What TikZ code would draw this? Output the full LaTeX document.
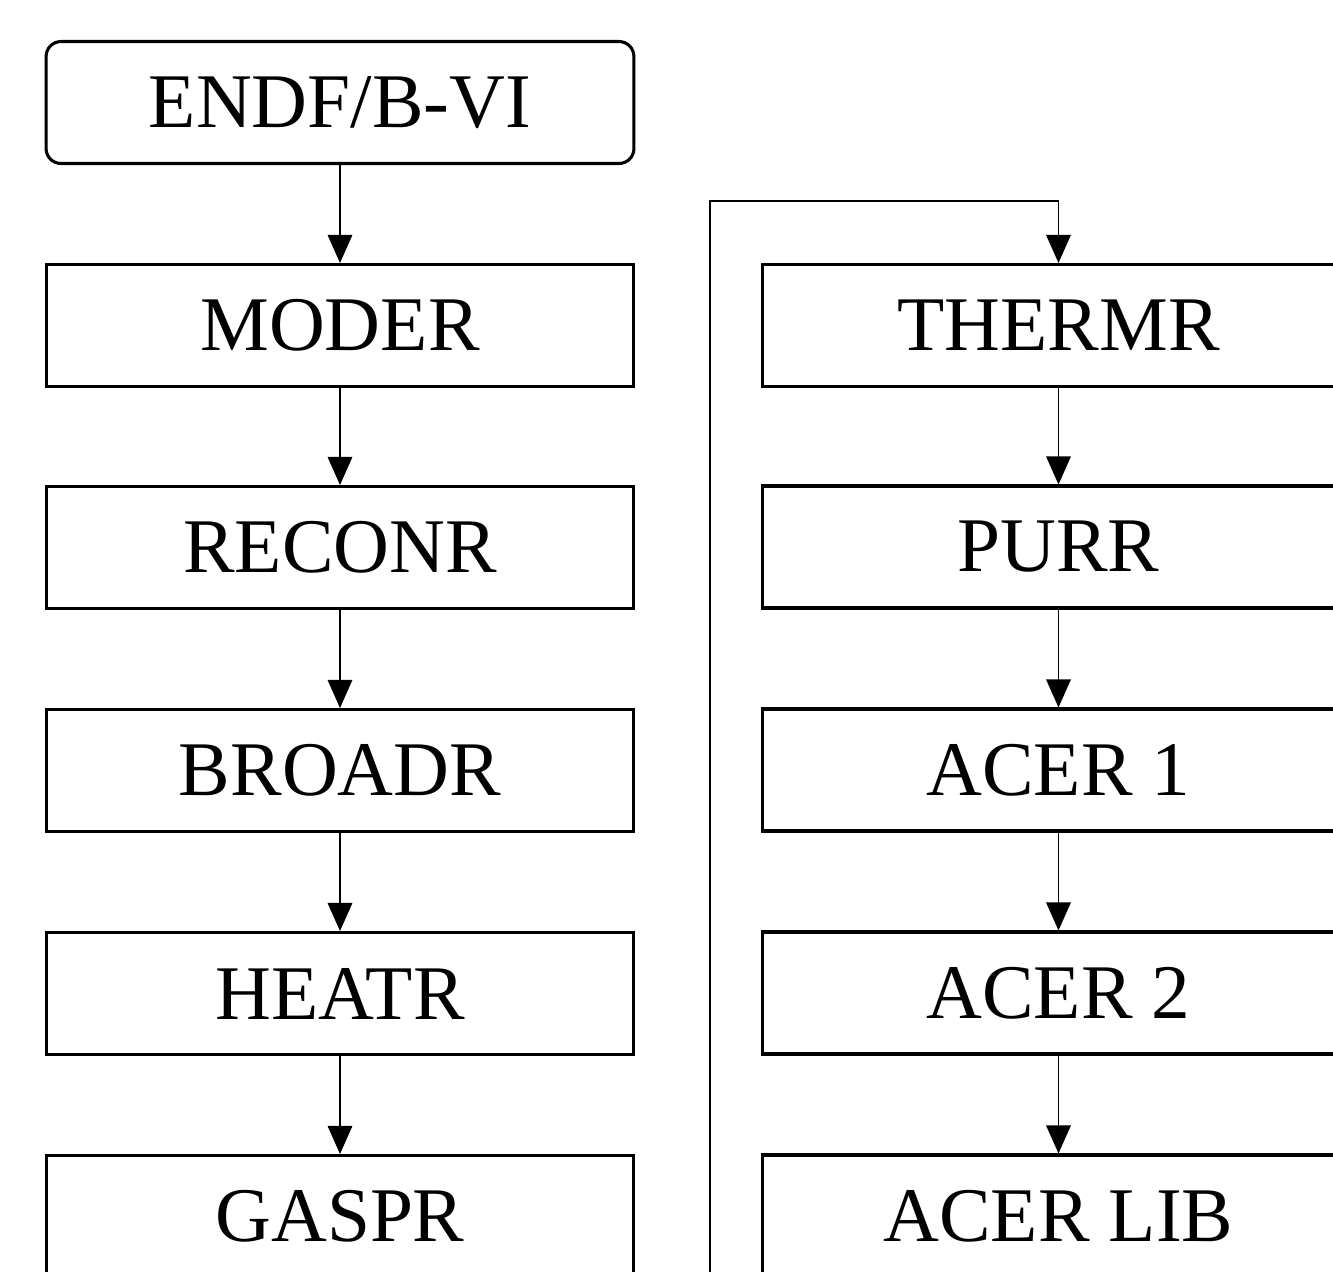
\documentclass[tikz,border=0pt]{standalone}
\usepackage{fontspec}
\setmainfont{Liberation Serif}
\usetikzlibrary{arrows.meta}
\begin{document}
\begin{tikzpicture}[x=0.02cm,y=-0.02cm,
  box/.style={draw,line width=1.75pt,minimum width=11.76cm,minimum height=2.44cm,inner sep=0pt,
    font=\fontsize{44}{50}\selectfont},
  rbox/.style={box,rounded corners=0.3cm},
  wbox/.style={box,minimum width=11.86cm},
  arr/.style={line width=0.85pt,-{Triangle[width=14pt,length=16pt]}},
  thin/.style={line width=0.85pt}]
\useasboundingbox (0,0) rectangle (1333,1272);
\clip (0,0) rectangle (1333,1272);
\node[rbox] (endf) at (340,102.5) {ENDF/B-VI};
\node[box] (moder) at (340,325.5) {MODER};
\node[box] (reconr) at (340,547.5) {RECONR};
\node[box] (broadr) at (340,770.5) {BROADR};
\node[box] (heatr) at (340,993.5) {HEATR};
\node[box] (gaspr) at (340,1216.5) {GASPR};
\node[wbox] (thermr) at (1058.5,325.5) {THERMR};
\node[wbox] (purr) at (1058.5,547) {PURR};
\node[wbox] (acera) at (1058.5,770) {ACER 1};
\node[wbox] (acerb) at (1058.5,993) {ACER 2};
\node[wbox] (acerlib) at (1058.5,1216) {ACER LIB};
\draw[arr] (endf) -- (moder);
\draw[arr] (moder) -- (reconr);
\draw[arr] (reconr) -- (broadr);
\draw[arr] (broadr) -- (heatr);
\draw[arr] (heatr) -- (gaspr);
\draw[arr] (thermr) -- (purr);
\draw[arr] (purr) -- (acera);
\draw[arr] (acera) -- (acerb);
\draw[arr] (acerb) -- (acerlib);
\coordinate (loopstart) at (710,1300);
\coordinate (loopturn) at (1058.5,201);
\draw[arr] (loopstart) |- (loopturn) -- (thermr.north);
\end{tikzpicture}
\end{document}
